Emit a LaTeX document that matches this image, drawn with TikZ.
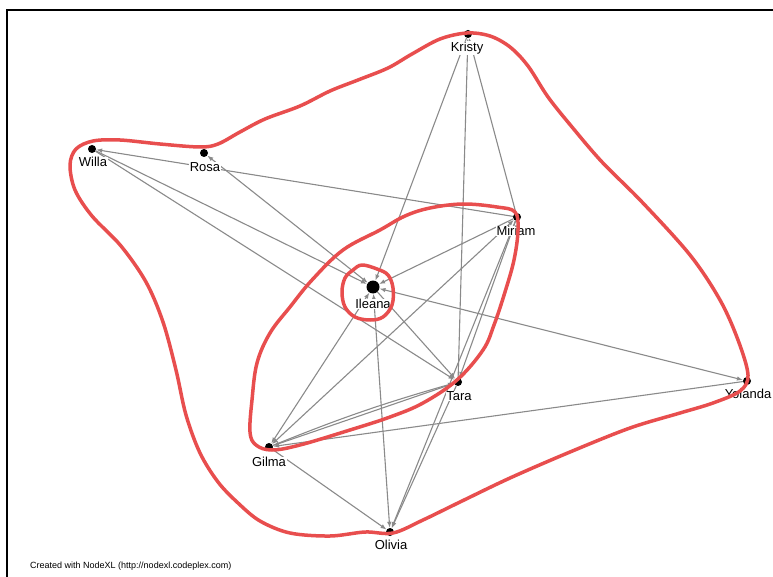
\documentclass[tikz,border=0pt]{standalone}
\usepackage{fontspec}
\setmainfont{Liberation Sans}
\usetikzlibrary{arrows.meta}
\definecolor{edgegray}{RGB}{138,138,138}
\definecolor{markred}{RGB}{232,78,78}
\begin{document}
\begin{tikzpicture}[x=1pt,y=-1pt,
  vertex/.style={circle,fill=black,inner sep=0pt,minimum size=8pt},
  hub/.style={vertex,minimum size=13pt},
  vlabel/.style={fill=white,inner sep=0.6pt,font=\fontsize{13}{15}\selectfont},
  tip/.tip={Latex[length=6pt,width=4.5pt]},
  link/.style={draw=edgegray,line width=1.1pt,-tip},
  twoway/.style={draw=edgegray,line width=1.1pt,tip-tip},
  marker/.style={draw=markred,line width=3.5pt,line cap=round,line join=round}]
\useasboundingbox (0,0) rectangle (773,577);

% frame
\draw[line width=2pt] (7,577) -- (7,10) -- (773,10);

% vertices
\node[vertex] (kristy)  at (468,34)  {};
\node[vertex] (willa)   at (92,149)  {};
\node[vertex] (rosa)    at (204,153) {};
\node[vertex] (miriam)  at (517,217) {};
\node[hub]    (ileana)  at (373,287) {};
\node[vertex] (tara)    at (458,382) {};
\node[vertex] (yolanda) at (747,381) {};
\node[vertex] (gilma)   at (269,447) {};
\node[vertex] (olivia)  at (390,532) {};

% edges
\draw[link]   (kristy) -- (ileana);
\draw[link]   (miriam) -- (kristy);
\draw[link]   (tara) -- (kristy);
\draw[link]   (willa) -- (ileana);
\draw[link]   (willa) -- (tara);
\draw[link]   (miriam) -- (willa);
\draw[twoway] (rosa) -- (ileana);
\draw[link]   (miriam) -- (ileana);
\draw[twoway] (yolanda) -- (ileana);
\draw[link]   (ileana) -- (tara);
\draw[twoway] (ileana) -- (gilma);
\draw[twoway] (ileana) -- (olivia);
\draw[twoway] (miriam) -- (gilma);
\draw[link]   (tara) -- (gilma);
\draw[link]   (gilma) to[bend left=3] (tara);
\draw[link]   (yolanda) -- (gilma);
\draw[link]   (miriam) -- (tara);
\draw[link]   (miriam) -- (olivia);
\draw[link]   (tara) -- (olivia);
\draw[link]   (gilma) -- (olivia);

% vertex labels
\node[vlabel] (kristyL)  at (467,48)  {Kristy};
\node[vlabel] (willaL)   at (93,162)  {Willa};
\node[vlabel] (rosaL)    at (205,167) {Rosa};
\node[vlabel] (miriamL)  at (516,231) {Miriam};
\node[vlabel] (ileanaL)  at (373,304) {Ileana};
\node[vlabel] (taraL)    at (459,396) {Tara};
\node[vlabel] (yolandaL) at (748,394) {Yolanda};
\node[vlabel] (gilmaL)   at (269,462) {Gilma};
\node[vlabel] (oliviaL)  at (391,545) {Olivia};

% footer
\node[anchor=west,inner sep=0pt,font=\fontsize{9}{11}\selectfont] (credit) at (30,566)
  {Created with NodeXL (http://nodexl.codeplex.com)};

% hand-drawn red groupings
\draw[marker] plot[smooth cycle,tension=0.6] coordinates {
  (362,265) (377,269) (388,275) (393,288) (392,305) (383,317) (370,320)
  (355,317) (345,307) (342,292) (345,278) (353,270)};

\draw[marker] plot[smooth cycle,tension=0.6] coordinates {
  (515,212) (497,207) (463,204) (430,208) (405,216) (380,230) (343,250)
  (312,280) (290,307) (270,333) (257,363) (252,400) (250,432) (256,445)
  (272,450) (300,445) (350,430) (390,417) (423,403) (457,380) (483,350)
  (494,325) (505,292) (514,260) (518,230)};

\draw[marker] plot[smooth cycle,tension=0.55] coordinates {
  (467,33) (490,36) (510,47) (528,66) (548,97) (572,127) (602,162)
  (642,202) (690,255) (720,300) (738,340) (748,375) (740,391) (713,403)
  (680,413) (630,428) (570,452) (510,478) (460,502) (423,520) (393,533)
  (365,532) (330,536) (290,533) (260,521) (238,503) (218,482) (200,453)
  (186,415) (176,370) (163,322) (146,282) (121,246) (92,216) (75,190)
  (70,165) (76,149) (93,141) (120,140) (160,144) (200,147) (218,144)
  (240,132) (265,119) (300,106) (330,91) (358,80) (388,68) (412,54) (440,39)};
\end{tikzpicture}
\end{document}
